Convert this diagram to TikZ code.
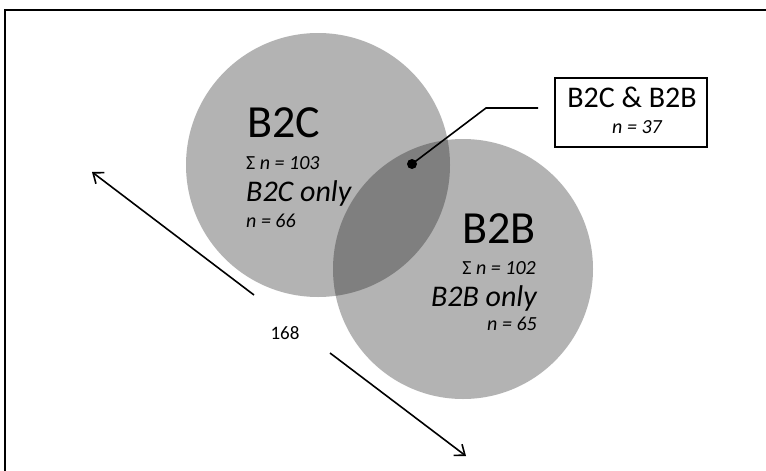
\documentclass[tikz,border=0pt]{standalone}
\usepackage{fontspec}
\setmainfont{Carlito}
\usetikzlibrary{arrows.meta}
\definecolor{lightc}{HTML}{B3B3B3}
\definecolor{darkc}{HTML}{7F7F7F}
\tikzset{
  small/.style={inner sep=0pt, font=\fontsize{20}{22}\selectfont\itshape},
  mid/.style={inner sep=0pt, font=\fontsize{30}{32}\selectfont\itshape},
  big/.style={inner sep=0pt, font=\fontsize{46}{50}\selectfont},
  arr/.style={line width=1.6pt, -{Straight Barb[length=9pt,width=14pt,line width=1.6pt]}},
  frame/.style={line width=2pt},
}
\begin{document}
\begin{tikzpicture}[x=1pt,y=-1pt]
\useasboundingbox (0,0) rectangle (766,471);
\fill[white] (0,0) rectangle (766,471);
\draw[frame] (5,471) -- (5,10) -- (766,10);
% circles
\fill[lightc] (318,165) circle (132);
\fill[lightc] (463,269) circle (130);
\begin{scope}
  \clip (318,165) circle (132);
  \fill[darkc] (463,269) circle (130);
\end{scope}
% B2C texts
\node[big, anchor=base west] (b2c) at (247,137) {B2C};
\node[small, anchor=base west] (s1) at (246,169) {{\upshape Σ} n = 103};
\node[mid, anchor=base west] (o1) at (246,201) {B2C only};
\node[small, anchor=base west] (n1) at (246,227) {n = 66};
% B2B texts
\node[big, anchor=base east] (b2b) at (536,243) {B2B};
\node[small, anchor=base east] (s2) at (536,274) {{\upshape Σ} n = 102};
\node[mid, anchor=base east] (o2) at (537,306) {B2B only};
\node[small, anchor=base east] (n2) at (537,330) {n = 65};
% callout box
\node[draw, line width=1.6pt, minimum width=152pt, minimum height=69pt, inner sep=0pt] (box) at (631,112.5) {};
\node[inner sep=0pt, anchor=base, font=\fontsize{30}{32}\selectfont] (bt) at (632,107) {B2C \& B2B};
\node[small, anchor=base] (bn) at (637,133) {n = 37};
% leader
\fill[black] (412,164) circle (5);
\coordinate (dot) at (412,164);
\coordinate (bend) at (486,108);
\coordinate (lend) at (538,108);
\draw[line width=1.6pt] (dot) -- (bend) -- (lend);
% arrows
\node[inner sep=0pt, anchor=base, font=\fontsize{19}{21}\selectfont] (num) at (285,339) {168};
\coordinate (a1s) at (254,295);
\coordinate (a1e) at (92,172);
\coordinate (a2s) at (330,353);
\coordinate (a2e) at (466,456);
\draw[arr] (a1s) -- (a1e);
\draw[arr] (a2s) -- (a2e);
\end{tikzpicture}
\end{document}
